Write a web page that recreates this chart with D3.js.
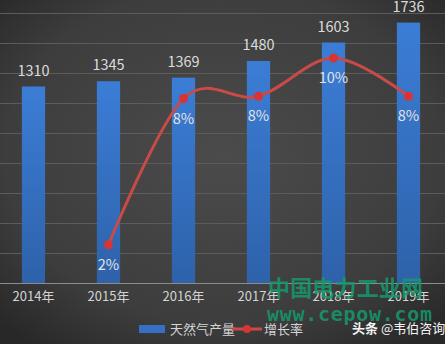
<!DOCTYPE html>
<html>
<head>
<meta charset="utf-8">
<script src="https://cdn.jsdelivr.net/npm/d3@7/dist/d3.min.js"></script>
<style>
  html, body { margin: 0; padding: 0; background: #333; }
  svg { display: block; font-family: "Noto Sans CJK SC", "Noto Sans", sans-serif; }
</style>
</head>
<body>
<svg id="chart" width="445" height="344"></svg>
<script>
// 天然气产量 (亿立方米) 及增长率
const years = ["2014年", "2015年", "2016年", "2017年", "2018年", "2019年"];
const output = [1310, 1345, 1369, 1480, 1603, 1736];
const growth = [null, 1.7, 8.2, 8.3, 10.0, 8.3];
const growthLabels = [null, "2%", "8%", "8%", "10%", "8%"];
const gridTicks = [200, 400, 600, 800, 1000, 1200, 1400, 1600, 1800];
const seriesNames = ["天然气产量", "增长率"];

const W = 445, H = 344;
const svg = d3.select("#chart");
const defs = svg.append("defs");

// background
const bg = defs.append("radialGradient").attr("id", "bg")
  .attr("cx", "50%").attr("cy", "45%").attr("r", "70%");
bg.append("stop").attr("offset", "0%").attr("stop-color", "#4b4b4b");
bg.append("stop").attr("offset", "70%").attr("stop-color", "#3d3d3d");
bg.append("stop").attr("offset", "100%").attr("stop-color", "#282828");
svg.append("rect").attr("width", W).attr("height", H).attr("fill", "url(#bg)");

const barGrad = defs.append("linearGradient").attr("id", "barGrad")
  .attr("x1", 0).attr("y1", 0).attr("x2", 0).attr("y2", 1);
barGrad.append("stop").attr("offset", "0%").attr("stop-color", "#3b7dd6");
barGrad.append("stop").attr("offset", "100%").attr("stop-color", "#2e62aa");

const baseY = 283, topY = 13;
const x = d3.scaleBand().domain(years).range([-4, 446]).padding(0);
const y = d3.scaleLinear().domain([0, 1800]).range([baseY, topY]);
const y2 = d3.scaleLinear().domain([0, 12]).range([baseY, topY]);
const cx = d => x(d) + x.bandwidth() / 2;
const barW = x.bandwidth() * 0.31;

// gridlines
svg.append("g").selectAll("line").data(gridTicks).join("line")
  .attr("x1", 0).attr("x2", W)
  .attr("y1", d => Math.round(y(d)) + 0.5).attr("y2", d => Math.round(y(d)) + 0.5)
  .attr("stroke", "#5c5c5c").attr("stroke-width", 1);

// bars
svg.append("g").selectAll("rect").data(years).join("rect")
  .attr("x", d => cx(d) - barW / 2)
  .attr("width", barW)
  .attr("y", (d, i) => y(output[i]))
  .attr("height", (d, i) => baseY - y(output[i]))
  .attr("fill", "url(#barGrad)");

// x axis
const xAxis = svg.append("g").attr("transform", `translate(0,${baseY})`)
  .call(d3.axisBottom(x).tickSize(0).tickPadding(9));
xAxis.select(".domain").attr("stroke", "#8c8c8c").attr("d", `M0,0.5H${W}`);
xAxis.selectAll("text").attr("fill", "#d4d4d4").attr("font-size", 13)
  .attr("font-family", "Noto Sans CJK SC, sans-serif");

// bar value labels
svg.append("g").selectAll("text").data(years).join("text")
  .attr("x", cx)
  .attr("y", (d, i) => y(output[i]) - 11)
  .attr("text-anchor", "middle")
  .attr("fill", "#dcdcdc").attr("font-size", 14.5)
  .text((d, i) => output[i]);

// growth line
const pts = years.map((d, i) => ({ year: d, v: growth[i], label: growthLabels[i] }))
  .filter(p => p.v !== null);
const line = d3.line()
  .x(p => cx(p.year)).y(p => y2(p.v))
  .curve(d3.curveCardinal.tension(0));
svg.append("path").datum(pts).attr("d", line)
  .attr("fill", "none").attr("stroke", "#c84b48").attr("stroke-width", 3)
  .attr("stroke-linecap", "round");
svg.append("g").selectAll("circle").data(pts).join("circle")
  .attr("cx", p => cx(p.year)).attr("cy", p => y2(p.v)).attr("r", 4.5)
  .attr("fill", "#d83434");
svg.append("g").selectAll("text").data(pts).join("text")
  .attr("x", p => cx(p.year)).attr("y", p => y2(p.v) + 25)
  .attr("text-anchor", "middle")
  .attr("fill", "#e2e2e2").attr("font-size", 14.5)
  .text(p => p.label);

// watermark overlay
svg.append("text").attr("x", 268).attr("y", 296)
  .attr("fill", "#149a6c").attr("fill-opacity", 0.85)
  .attr("font-size", 22).attr("font-weight", 700)
  .attr("textLength", 155).attr("lengthAdjust", "spacing")
  .text("中国电力工业网");
svg.append("text").attr("x", 267).attr("y", 321)
  .attr("fill", "#149a6c").attr("fill-opacity", 0.85)
  .attr("font-family", "DejaVu Sans Mono, monospace")
  .attr("font-size", 20).attr("font-weight", 700)
  .attr("textLength", 165).attr("lengthAdjust", "spacing")
  .text("www.cepow.com");

// legend
const lg = svg.append("g");
lg.append("rect").attr("x", 139).attr("y", 325).attr("width", 26).attr("height", 8)
  .attr("fill", "#3570c4");
lg.append("text").attr("x", 170).attr("y", 333.5).attr("fill", "#d4d4d4")
  .attr("font-size", 13).text(seriesNames[0]);
lg.append("line").attr("x1", 232).attr("x2", 262).attr("y1", 329).attr("y2", 329)
  .attr("stroke", "#c84b48").attr("stroke-width", 3);
lg.append("circle").attr("cx", 247).attr("cy", 329).attr("r", 4).attr("fill", "#d83434");
lg.append("text").attr("x", 264).attr("y", 333.5).attr("fill", "#d4d4d4")
  .attr("font-size", 13).text(seriesNames[1]);

// source tag
const tag = svg.append("text").attr("x", 352).attr("y", 333).attr("fill", "#f4f4f4")
  .attr("font-size", 13);
tag.append("tspan").attr("font-weight", 700).text("头条 ");
tag.append("tspan").text("@韦伯咨询");
</script>
</body>
</html>
